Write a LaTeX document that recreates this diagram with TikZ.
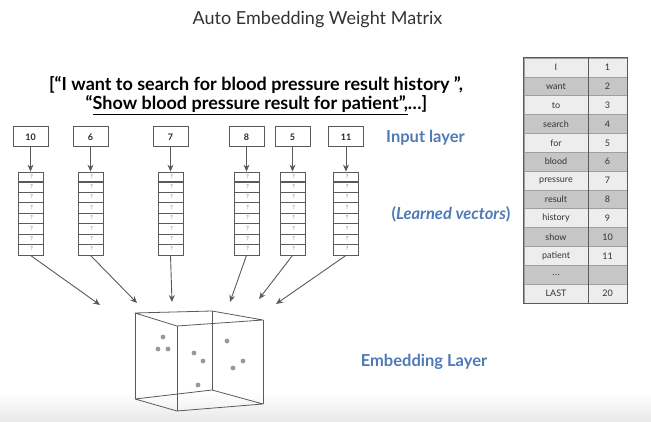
\documentclass[tikz,border=0pt]{standalone}
\usepackage{fontspec}
\setmainfont{Lato}
\usetikzlibrary{arrows.meta,calc}
\definecolor{lblue}{HTML}{4E7AB5}
\definecolor{tdark}{HTML}{C6C6C6}
\definecolor{tlight}{HTML}{EDEDED}
\definecolor{edge}{HTML}{5A5A5A}
\newcommand{\tdots}{.\kern0.5pt.\kern0.5pt.}
\begin{document}
\begin{tikzpicture}[x=1pt,y=-1pt,
  numbox/.style={draw=edge,line width=1pt,minimum width=35pt,minimum height=20pt,inner sep=0pt,font=\fontsize{9}{9}\selectfont\bfseries,text=black!85},
  vecbox/.style={draw=edge,line width=0.8pt,minimum width=25pt,minimum height=83pt,inner sep=0pt},
  arr/.style={draw=edge,line width=0.9pt,-{Stealth[length=7pt,width=6pt]}},
  lbl/.style={text=lblue,font=\fontsize{16.5}{16.5}\selectfont\bfseries},
  tcell/.style={draw=gray!75,line width=0.6pt,minimum height=18.85pt,inner sep=0pt,font=\fontsize{9}{9}\selectfont,text=black!80},
  cubeline/.style={draw=edge,line width=0.8pt,line join=round},
  dot/.style={fill=gray!80}]
\useasboundingbox (0,0) rectangle (651,422);
\shade[top color=white,bottom color=gray!18] (0,392) rectangle (651,422);

% title and sentences
\node[text=black!80,font=\fontsize{18}{18}\selectfont] (title) at (317.5,20) {Auto Embedding Weight Matrix};
\node[font=\fontsize{18}{18}\selectfont\bfseries] (s1) at (256,85) {[“I want to search for blood pressure result history ”,};
\node[font=\fontsize{18}{18}\selectfont\bfseries] (s2) at (256.5,105) {“\underline{Show blood pressure result for patient”,}\tdots]};

% labels
\node[lbl] (inl) at (425.5,138) {Input layer};
\node[lbl] (lv) at (451,214) {(\textit{Learned vectors})};
\node[lbl] (el) at (424,362) {Embedding Layer};

% input boxes and vectors
\foreach \i/\x/\v in {1/30.5/10,2/90.5/6,3/170.5/7,4/246.5/8,5/292.5/5,6/346/11}{
  \node[numbox] (b\i) at (\x,137) {\v};
  \node[vecbox] (c\i) at (\x,213.5) {};
  \foreach \k in {1,2,3,4,5,6,7}{
    \pgfmathsetmacro{\lw}{ifthenelse(mod(\k,2)==1,1.3,0.6)}
    \draw[edge,line width=\lw pt] ($(c\i.north west)+(0,10.375*\k)$) -- ($(c\i.north east)+(0,10.375*\k)$);
  }
  \foreach \k in {1,2,3,4,5,6,7,8}{
    \node[font=\fontsize{5.5}{5.5}\selectfont,text=gray!90!black,inner sep=0pt] at ($(c\i.north)+(1,10.375*\k-5.8)$) {?};
  }
  \draw[arr] (b\i) -- (c\i);
}

% arrow tips at the cube
\coordinate (t1) at (100,305);
\coordinate (t2) at (137,303);
\coordinate (t3) at (172,302);
\coordinate (t4) at (230,302);
\coordinate (t5) at (259,299);
\coordinate (t6) at (276,304);
\foreach \i in {1,2,3,4,5,6}{ \draw[arr] (c\i.south) -- (t\i); }

% cube
\coordinate (A) at (135,313); \coordinate (B) at (212,311);
\coordinate (C) at (263,320); \coordinate (D) at (177,326);
\coordinate (A2) at (135,399); \coordinate (B2) at (212,390);
\coordinate (C2) at (263,404); \coordinate (D2) at (177,411);
\draw[cubeline] (A) -- (B) -- (C) -- (D) -- cycle;
\draw[cubeline] (A2) -- (B2) -- (C2) -- (D2) -- cycle;
\draw[cubeline] (A) -- (A2) (B) -- (B2) (C) -- (C2) (D) -- (D2);
\foreach \p in {(163,337),(158,349),(168,349),(194,353),(203,361),(198,385),(227,341),(243,361),(233,368)}{
  \fill[dot] \p circle (2.4);
}

% vocabulary table
\foreach \w/\n [count=\r] in {I/1,want/2,to/3,search/4,for/5,blood/6,pressure/7,result/8,history/9,show/10,patient/11,\tdots/{},LAST/20}{
  \pgfmathsetmacro{\yy}{58+18.85*(\r-0.5)}
  \pgfmathtruncatemacro{\odd}{mod(\r,2)}
  \ifnum\odd=1 \def\fc{tlight}\else\def\fc{tdark}\fi
  \node[tcell,fill=\fc,minimum width=64pt] (w\r) at (556,\yy) {\w};
  \node[tcell,fill=\fc,minimum width=39pt] (n\r) at (607.5,\yy) {\n};
}
\draw[edge,line width=0.8pt] (w1.north west) rectangle (n13.south east);
\draw[edge,line width=0.8pt] (w1.north east) -- (w13.south east);
\end{tikzpicture}
\end{document}
